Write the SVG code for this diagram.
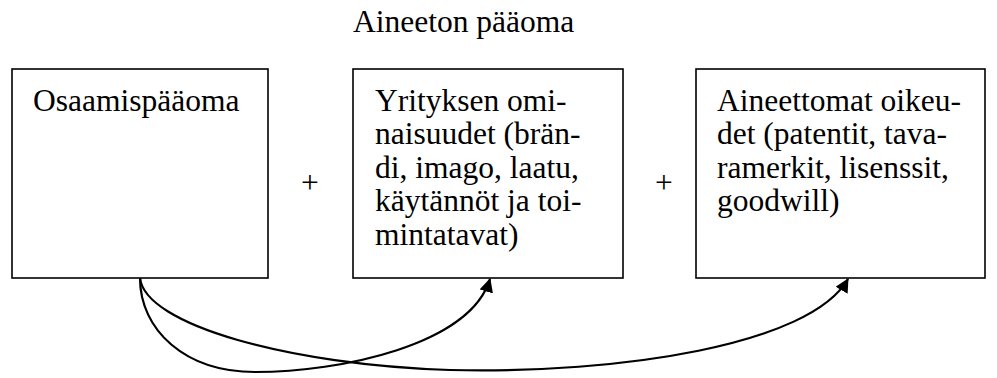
<svg xmlns="http://www.w3.org/2000/svg" width="997" height="378" viewBox="0 0 997 378">
  <style>
    .box { fill: #fff; stroke: #000; stroke-width: 1.6; }
    .txt { font-family: "Liberation Serif", "Times New Roman", serif; font-size: 31.5px; fill: #000; }
    .link { fill: none; stroke: #000; stroke-width: 2.2; }
  </style>
  <defs>
    <marker id="arrow" viewBox="0 0 10 10" refX="9" refY="5" markerWidth="6" markerHeight="6" markerUnits="userSpaceOnUse" orient="auto">
      <path d="M0,0 L10,5 L0,10 z" fill="#000"/>
    </marker>
    <marker id="arrowHead" viewBox="0 0 14 14" refX="13" refY="7" markerWidth="14" markerHeight="14" markerUnits="userSpaceOnUse" orient="auto">
      <path d="M0,0 L14,7 L0,14 z" fill="#000"/>
    </marker>
  </defs>

  <g id="title">
    <text class="txt" x="353" y="32">Aineeton pääoma</text>
  </g>

  <g id="osaamispaaoma">
    <rect class="box" x="12" y="69" width="256" height="209"/>
    <text class="txt" x="33" y="111">Osaamispääoma</text>
  </g>

  <g id="plus-1">
    <text class="txt" x="310" y="193" text-anchor="middle">+</text>
  </g>

  <g id="yrityksen-ominaisuudet">
    <rect class="box" x="353" y="69" width="270" height="209"/>
    <text class="txt" x="375" y="111">Yrityksen omi-</text>
    <text class="txt" x="375" y="144.4">naisuudet (brän-</text>
    <text class="txt" x="375" y="177.8">di, imago, laatu,</text>
    <text class="txt" x="375" y="211.2">käytännöt ja toi-</text>
    <text class="txt" x="375" y="244.6">mintatavat)</text>
  </g>

  <g id="plus-2">
    <text class="txt" x="664" y="193" text-anchor="middle">+</text>
  </g>

  <g id="aineettomat-oikeudet">
    <rect class="box" x="696" y="69" width="289" height="209"/>
    <text class="txt" x="717" y="111">Aineettomat oikeu-</text>
    <text class="txt" x="717" y="144.4">det (patentit, tava-</text>
    <text class="txt" x="717" y="177.8">ramerkit, lisenssit,</text>
    <text class="txt" x="717" y="211.2">goodwill)</text>
  </g>

  <g id="connectors">
    <path class="link" marker-end="url(#arrowHead)" d="M140,278 C140,330 185,372 255,372 C340,372 470,345 490,279"/>
    <path class="link" marker-end="url(#arrowHead)" d="M140,278 C145,325 290,365 450,370 C620,374 810,345 848,279"/>
  </g>
</svg>
